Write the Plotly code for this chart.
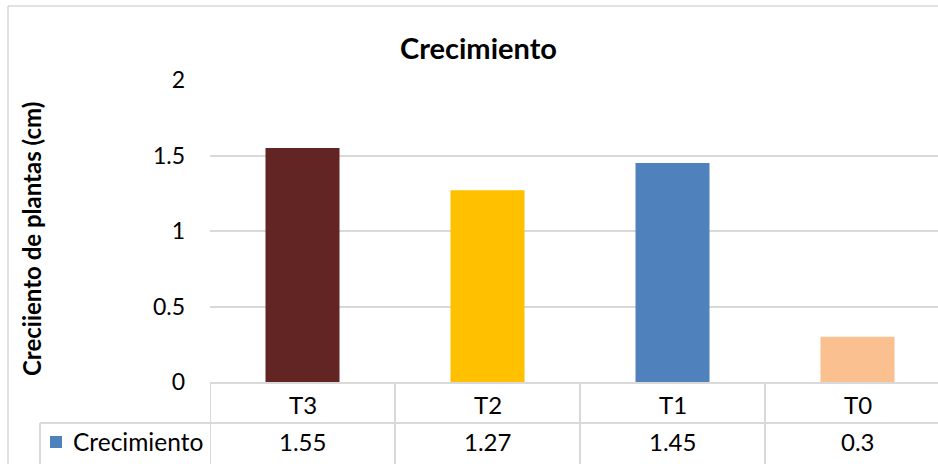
import plotly.graph_objects as go

categories = ["T3", "T2", "T1", "T0"]
values = [1.55, 1.27, 1.45, 0.3]
bar_colors = ["#632523", "#FFC000", "#4F81BD", "#FAC090"]
series_name = "Crecimiento"
title_text = "Crecimiento"
y_title = "Creciiento de plantas (cm)"
y_ticks = [0, 0.5, 1, 1.5, 2]
y_ticklabels = ["0", "0.5", "1", "1.5", "2"]

W, H = 938, 464
L, R, T, B = 210, 0, 80, 82
pw, ph = W - L - R, H - T - B
FONT = "Lato"
GRID = "#d9d9d9"
TXT = 24

def px_x(p):
    return (p - L) / pw

def px_y(p):
    return (H - B - p) / ph

fig = go.Figure()
fig.add_trace(go.Bar(
    x=categories, y=values, width=0.4,
    marker=dict(color=bar_colors, line=dict(width=0)),
    name=series_name, showlegend=False,
))

shapes = []
# outer chart frame (left & top)
shapes.append(dict(type="line", xref="paper", yref="paper", x0=px_x(8), x1=px_x(8),
                   y0=px_y(6), y1=px_y(470), line=dict(color=GRID, width=1.5)))
shapes.append(dict(type="line", xref="paper", yref="paper", x0=px_x(8), x1=1.01,
                   y0=px_y(6), y1=px_y(6), line=dict(color=GRID, width=1.5)))
# data table horizontal lines
shapes.append(dict(type="line", xref="paper", yref="paper", x0=0, x1=1.01,
                   y0=px_y(383), y1=px_y(383), line=dict(color=GRID, width=2)))
shapes.append(dict(type="line", xref="paper", yref="paper", x0=px_x(40), x1=1.01,
                   y0=px_y(423), y1=px_y(423), line=dict(color=GRID, width=2)))
# data table vertical lines
shapes.append(dict(type="line", xref="paper", yref="paper", x0=px_x(40), x1=px_x(40),
                   y0=px_y(423), y1=px_y(470), line=dict(color=GRID, width=2)))
for i in range(len(categories)):
    shapes.append(dict(type="line", xref="x", yref="paper", x0=i - 0.5, x1=i - 0.5,
                       y0=px_y(383), y1=px_y(470), line=dict(color=GRID, width=2)))
# legend key square
shapes.append(dict(type="rect", xref="paper", yref="paper", x0=px_x(50), x1=px_x(62),
                   y0=px_y(448), y1=px_y(436), fillcolor=bar_colors[2], line=dict(width=0)))

annotations = []
for i, (c, v) in enumerate(zip(categories, values)):
    annotations.append(dict(x=c, y=px_y(404), xref="x", yref="paper", text=c, showarrow=False,
                            font=dict(family=FONT, size=TXT, color="#000000"),
                            xanchor="center", yanchor="middle"))
    annotations.append(dict(x=c, y=px_y(442), xref="x", yref="paper", text=f"{v:g}", showarrow=False,
                            font=dict(family=FONT, size=TXT, color="#000000"),
                            xanchor="center", yanchor="middle"))
annotations.append(dict(x=px_x(71), y=px_y(442), xref="paper", yref="paper", text=series_name,
                        showarrow=False, font=dict(family=FONT, size=24.5, color="#000000"),
                        xanchor="left", yanchor="middle"))
annotations.append(dict(x=px_x(31), y=px_y(239), xref="paper", yref="paper", text=f"<b>{y_title}</b>",
                        showarrow=False, textangle=-90, font=dict(family=FONT, size=24, color="#000000"),
                        xanchor="center", yanchor="middle"))
annotations.append(dict(x=px_x(478), y=px_y(48), xref="paper", yref="paper", text=f"<b>{title_text}</b>",
                        showarrow=False, font=dict(family=FONT, size=29, color="#000000"),
                        xanchor="center", yanchor="middle"))

fig.update_layout(
    width=W, height=H,
    margin=dict(l=L, r=R, t=T, b=B, pad=0),
    paper_bgcolor="white", plot_bgcolor="white",
    shapes=shapes, annotations=annotations,
    xaxis=dict(type="category", range=[-0.5, -0.5 + pw / 185.0], showticklabels=False,
               showgrid=False, zeroline=False, showline=False, ticks=""),
    yaxis=dict(range=[0, 2], tickvals=y_ticks, ticktext=y_ticklabels, showgrid=True,
               gridcolor=GRID, gridwidth=1.5, zeroline=False, showline=False, ticks="",
               ticklabelstandoff=24, tickfont=dict(family=FONT, size=23, color="#000000")),
    font=dict(family=FONT),
)

fig.write_html("out.html")
